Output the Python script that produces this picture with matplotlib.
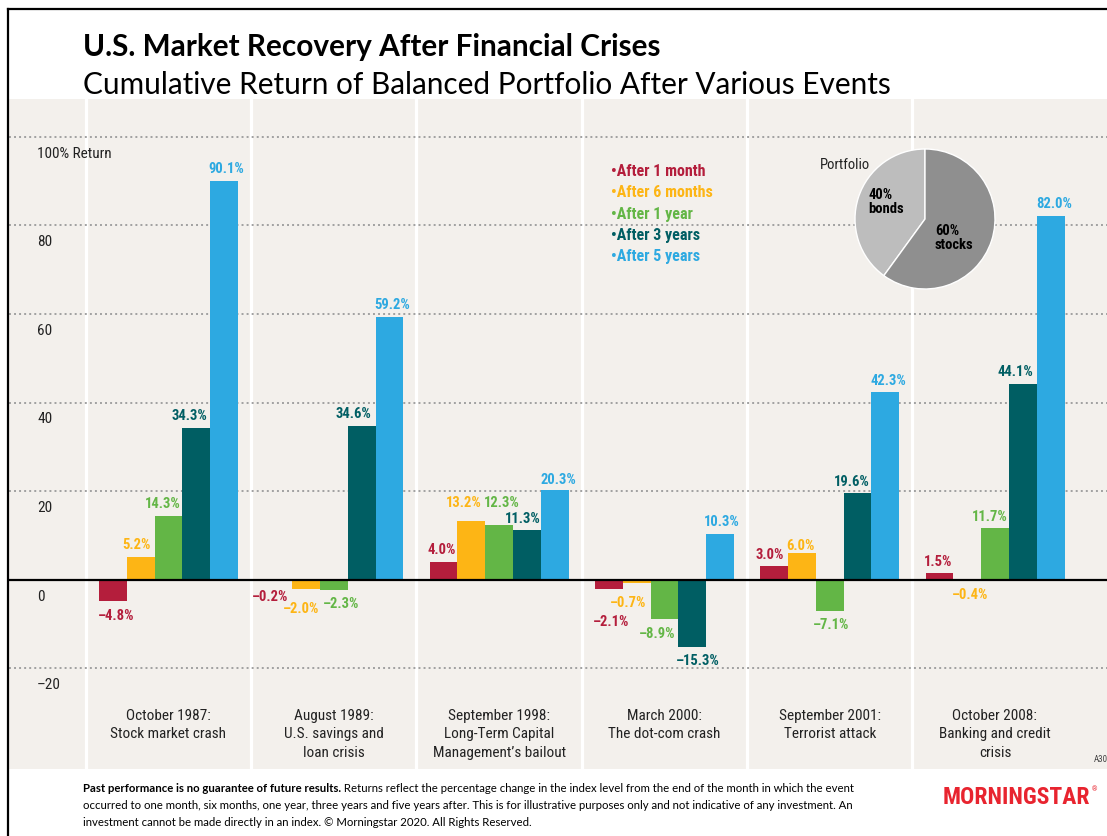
import matplotlib
matplotlib.use("Agg")
import matplotlib.pyplot as plt
from matplotlib import font_manager
from matplotlib.lines import Line2D

# data
events = ["October 1987:\nStock market crash",
          "August 1989:\nU.S. savings and\nloan crisis",
          "September 1998:\nLong-Term Capital\nManagement\u2019s bailout",
          "March 2000:\nThe dot-com crash",
          "September 2001:\nTerrorist attack",
          "October 2008:\nBanking and credit\ncrisis"]
series = ["After 1 month", "After 6 months", "After 1 year", "After 3 years", "After 5 years"]
after_1m = [-4.8, -0.2, 4.0, -2.1, 3.0, 1.5]
after_6m = [5.2, -2.0, 13.2, -0.7, 6.0, -0.4]
after_1y = [14.3, -2.3, 12.3, -8.9, -7.1, 11.7]
after_3y = [34.3, 34.6, 11.3, -15.3, 19.6, 44.1]
after_5y = [90.1, 59.2, 20.3, 10.3, 42.3, 82.0]
portfolio_labels = ["40%\nbonds", "60%\nstocks"]
portfolio_share = [40, 60]
y_ticks = [-20, 0, 20, 40, 60, 80, 100]
y_tick_labels = ["\u201320", "0", "20", "40", "60", "80", "100% Return"]

colors = ["#B41E3C", "#FDB515", "#63B646", "#005E63", "#2DA9E1"]

# label nudges in pixels (dx, distance from bar end)
label_dx = [[3, -8, -2, 2, -4, -1],
            [-4, -5, -8, -9, -1, 3],
            [-6, 7, 3, -7, 1, -5],
            [-7, -8, -4, 6, -6, -7],
            [2, 3, 4, 2, 3, 4]]
label_dy = [[14, 15, 13, 32, 12, 12],
            [13, 19, 19, 19, 8, 13],
            [13, 13, 23, 14, 13, 12],
            [13, 13, 12, 13, 12, 13],
            [13, 13, 11, 13, 12, 13]]

W, H = 1107, 837
names = {f.name for f in font_manager.fontManager.ttflist}
COND = next((n for n in ("Liberation Sans Narrow", "Roboto Condensed", "DejaVu Sans")
             if n in names), "DejaVu Sans")
PLAIN = next((n for n in ("Lato", "Open Sans", "DejaVu Sans") if n in names), "DejaVu Sans")
cond = dict(family=[COND, "DejaVu Sans"], stretch="condensed")
plain = [PLAIN, "DejaVu Sans"]


def fx(px):
    return px / W


def fy(py):
    return 1 - py / H


fig = plt.figure(figsize=(W / 100, H / 100), dpi=100)

# chart panel
zero_px, unit_px = 580.7, 4.43
gap_px, first_px = 165.3, 168.5
panel_top, panel_bot = 100, 770
ax = fig.add_axes([fx(9), fy(panel_bot), fx(W - 9), (panel_bot - panel_top) / H])
ax.set_facecolor("#F3F0EC")
ax.set_xlim((9 - first_px) / gap_px, (W - first_px) / gap_px)
ax.set_ylim(-(panel_bot - zero_px) / unit_px, (zero_px - panel_top) / unit_px)
for s in ax.spines.values():
    s.set_visible(False)
ax.set_xticks([])
ax.set_yticks([])

for i in range(len(events)):
    ax.axvline(i - 0.5, color="white", lw=2.3, zorder=1)
for t in y_ticks:
    if t != 0:
        ax.axhline(t, color="#A0A0A0", lw=1.4, ls=(0, (1, 1.6)), zorder=2)
ax.axhline(0, color="black", lw=1.6, zorder=5)

bw = 27.8 / gap_px
all_series = [after_1m, after_6m, after_1y, after_3y, after_5y]
for k, vals in enumerate(all_series):
    xs = [i + (k - 2) * bw for i in range(len(vals))]
    ax.bar(xs, vals, width=bw, color=colors[k], zorder=3, linewidth=0)
    for i, (x, v) in enumerate(zip(xs, vals)):
        sgn = 1 if v >= 0 else -1
        txt = f"{abs(v):.1f}%" if v >= 0 else f"\u2013{abs(v):.1f}%"
        ax.annotate(txt, (x, v), xytext=(label_dx[k][i] * 0.72, sgn * label_dy[k][i] * 0.72),
                    textcoords="offset points", ha="center", va="center",
                    color=colors[k], fontsize=10.5, fontweight="bold", zorder=6, **cond)

# y labels sit just under their gridline
for t, lab in zip(y_ticks, y_tick_labels):
    ax.annotate(lab, (37, t), xycoords=("figure pixels", "data"), xytext=(0, -16 * 0.72),
                textcoords="offset points", ha="left", va="center", fontsize=11,
                color="#222222", **cond)

# event names under each group
for i, ev in enumerate(events):
    for j, line in enumerate(ev.split("\n")):
        ax.text(i, -(716 + 18.5 * j - zero_px) / unit_px, line, ha="center", va="center",
                fontsize=11, color="#222222", **cond)

# legend
for k, name in enumerate(series):
    fig.text(fx(611), fy(171 + 21.5 * k), "\u2022" + name, color=colors[k], fontsize=11.5,
             fontweight="bold", va="center", ha="left", **cond)

# portfolio pie
fig.text(fx(820), fy(165), "Portfolio", fontsize=10.5, color="#222222", va="center", **cond)
pax = fig.add_axes([fx(855), fy(290), 140 / W, 140 / H])
pax.pie(portfolio_share, colors=["#BDBDBD", "#8F8F8F"], startangle=90,
        wedgeprops=dict(edgecolor="white", linewidth=1))
pax.set_xlim(-1, 1)
pax.set_ylim(-1, 1)
pax.text(-0.81, 0.26, portfolio_labels[0], ha="left", va="center", fontsize=10.5,
         fontweight="bold", linespacing=1.05, **cond)
pax.text(0.14, -0.26, portfolio_labels[1], ha="left", va="center", fontsize=10.5,
         fontweight="bold", linespacing=1.05, **cond)

# titles
fig.text(fx(83), fy(47), "U.S. Market Recovery After Financial Crises", fontsize=21.4,
         fontweight="bold", va="center", family=plain)
fig.text(fx(83), fy(85), "Cumulative Return of Balanced Portfolio After Various Events",
         fontsize=21.4, va="center", family=plain)

# frame (left and top only, the rest is cropped)
fig.add_artist(Line2D([fx(8), 1], [fy(10), fy(10)], color="black", lw=1.6,
                      transform=fig.transFigure))
fig.add_artist(Line2D([fx(8), fx(8)], [fy(10), 0], color="black", lw=1.6,
                      transform=fig.transFigure))

fig.text(fx(1094), fy(760), "A30", fontsize=6.5, color="#444444", va="center", **cond)

# footer note
fs = 8.2
bold = fig.text(fx(83), fy(789), "Past performance is no guarantee of future results.",
                fontsize=fs, fontweight="bold", va="center", family=plain)
logo = fig.text(fx(943), fy(798), "MORNINGSTAR", color="#E8242F", fontsize=17,
                fontweight="bold", va="center", **cond)
fig.canvas.draw()
rend = fig.canvas.get_renderer()
bb = bold.get_window_extent(rend)
fig.text(bb.x1 / W, fy(789), " Returns reflect the percentage change in the index level from "
         "the end of the month in which the event", fontsize=fs, va="center", family=plain)
fig.text(fx(83), fy(806), "occurred to one month, six months, one year, three years and five "
         "years after. This is for illustrative purposes only and not indicative of any "
         "investment. An", fontsize=fs, va="center", family=plain)
fig.text(fx(83), fy(823), "investment cannot be made directly in an index. \u00a9 Morningstar "
         "2020. All Rights Reserved.", fontsize=fs, va="center", family=plain)

lb = logo.get_window_extent(rend)
fig.text((lb.x1 + 1) / W, lb.y1 / H, "\u00ae", color="#E8242F", fontsize=5, va="top",
         ha="left", **cond)

fig.savefig("out.png", dpi=100)
